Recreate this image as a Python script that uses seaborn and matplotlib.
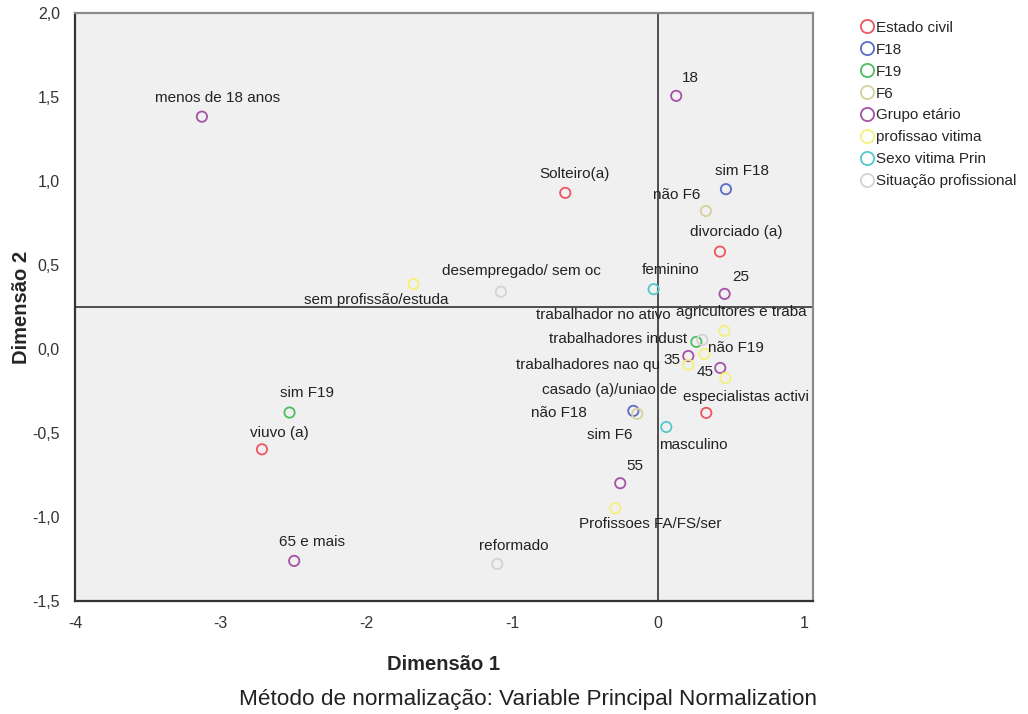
import matplotlib
matplotlib.use("Agg")
import matplotlib.pyplot as plt
from matplotlib.lines import Line2D
import seaborn as sns
import pandas as pd

# valores (Dimensão 1, Dimensão 2)
rotulos = ["Solteiro(a)", "divorciado (a)", "casado (a)/uniao de", "viuvo (a)",
           "sim F18", "não F18",
           "sim F19", "não F19",
           "não F6", "sim F6",
           "menos de 18 anos", "18", "25", "35", "45", "55", "65 e mais",
           "sem profissão/estuda", "agricultores e traba", "trabalhadores indust",
           "trabalhadores nao qu", "especialistas activi", "Profissoes FA/FS/ser",
           "feminino", "masculino",
           "desempregado/ sem oc", "trabalhador no ativo", "reformado"]
grupos = (["Estado civil"] * 4 + ["F18"] * 2 + ["F19"] * 2 + ["F6"] * 2
          + ["Grupo etário"] * 7 + ["profissao vitima"] * 6
          + ["Sexo vitima Prin"] * 2 + ["Situação profissional"] * 3)
dim1 = [-0.638, 0.423, 0.329, -2.718,
        0.464, -0.171,
        -2.529, 0.261,
        0.327, -0.144,
        -3.13, 0.123, 0.455, 0.206, 0.425, -0.261, -2.497,
        -1.678, 0.453, 0.316, 0.206, 0.460, -0.295,
        -0.032, 0.055,
        -1.079, 0.302, -1.104]
dim2 = [0.930, 0.580, -0.381, -0.598,
        0.952, -0.369,
        -0.379, 0.042,
        0.822, -0.387,
        1.384, 1.508, 0.328, -0.042, -0.113, -0.800, -1.263,
        0.387, 0.107, -0.030, -0.095, -0.173, -0.949,
        0.356, -0.465,
        0.341, 0.054, -1.281]

ordem = ["Estado civil", "F18", "F19", "F6", "Grupo etário",
         "profissao vitima", "Sexo vitima Prin", "Situação profissional"]
cores = ["#ee5560", "#5a6cc6", "#4cbf5e", "#d5d09c", "#a552a6",
         "#f4f07a", "#55c8cb", "#d3d3d3"]
paleta = dict(zip(ordem, cores))

# deslocamento dos rótulos em pixels (dx, dy para baixo)
desloc = {
    "Solteiro(a)": (9, -19), "divorciado (a)": (16, -20),
    "casado (a)/uniao de": (-97, -23), "viuvo (a)": (17, -16),
    "sim F18": (16, -18), "não F18": (-74, 2),
    "sim F19": (17, -20), "não F19": (40, 6),
    "não F6": (-29, -16), "sim F6": (-28, 21),
    "menos de 18 anos": (16, -19), "18": (14, -18), "25": (16, -17),
    "35": (-16, 4), "45": (-15, 4), "55": (15, -17), "65 e mais": (18, -19),
    "sem profissão/estuda": (-37, 16), "agricultores e traba": (17, -19),
    "trabalhadores indust": (-86, -15), "trabalhadores nao qu": (-100, 0),
    "especialistas activi": (21, 19), "Profissoes FA/FS/ser": (35, 16),
    "feminino": (17, -19), "masculino": (27, 18),
    "desempregado/ sem oc": (20, -21), "trabalhador no ativo": (-99, -25),
    "reformado": (16, -18),
}

df = pd.DataFrame({"rotulo": rotulos, "grupo": grupos, "d1": dim1, "d2": dim2})

sns.set_style("white")
plt.rcParams["font.family"] = ["Liberation Sans", "DejaVu Sans"]

fig = plt.figure(figsize=(10.28, 7.14), dpi=100)
ax = fig.add_axes([0.073, 0.1587, 0.7177, 0.8227])
ax.set_facecolor("#f0f0f0")

sns.scatterplot(data=df, x="d1", y="d2", hue="grupo", hue_order=ordem,
                palette=paleta, s=55, linewidth=1.3, legend=False, ax=ax, zorder=3)
# círculos vazios
pts = ax.collections[0]
pts.set_edgecolors(pts.get_facecolors())
pts.set_facecolors("none")

for r, x, y in zip(rotulos, dim1, dim2):
    dx, dy = desloc[r]
    ax.annotate(r, (x, y), xytext=(dx, -dy), textcoords="offset pixels",
                ha="center", va="center", fontsize=11, color="#222222", zorder=4)

ax.axvline(0, color="#333333", lw=1.2, zorder=2)
ax.axhline(0.25, color="#333333", lw=1.2, zorder=2)

ax.set_xlim(-4, 1.06)
ax.set_ylim(-1.5, 2.0)
ax.set_xticks([-4, -3, -2, -1, 0, 1])
ax.set_xticklabels(["-4", "-3", "-2", "-1", "0", "1"])
yt = [-1.5, -1.0, -0.5, 0.0, 0.5, 1.0, 1.5, 2.0]
ax.set_yticks(yt)
ax.set_yticklabels([f"{v:.1f}".replace(".", ",") for v in yt])
ax.tick_params(axis="both", direction="out", length=9, width=1.5,
               color="#333333", labelsize=11.5, labelcolor="#333333", pad=2)
for lado in ["left", "bottom"]:
    ax.spines[lado].set_color("#333333")
    ax.spines[lado].set_linewidth(1.6)
for lado in ["top", "right"]:
    ax.spines[lado].set_color("#8a8a8a")
    ax.spines[lado].set_linewidth(1.6)

ax.set_xlabel("Dimensão 1", fontsize=14.5, fontweight="bold", labelpad=17)
ax.set_ylabel("Dimensão 2", fontsize=14.5, fontweight="bold", labelpad=1)

handles = [Line2D([], [], marker="o", linestyle="none", markersize=9.5,
                  markerfacecolor="none", markeredgecolor=paleta[g],
                  markeredgewidth=1.3) for g in ordem]
fig.legend(handles, ordem, loc="upper left", bbox_to_anchor=(0.837, 0.971),
           frameon=False, fontsize=11, handlelength=0.8, handletextpad=0.2,
           labelspacing=0.52, borderaxespad=0, borderpad=0)

fig.text(0.514, 0.012, "Método de normalização: Variable Principal Normalization",
         ha="center", va="baseline", fontsize=16.2, color="#222222")

fig.savefig("out.png", dpi=100)
